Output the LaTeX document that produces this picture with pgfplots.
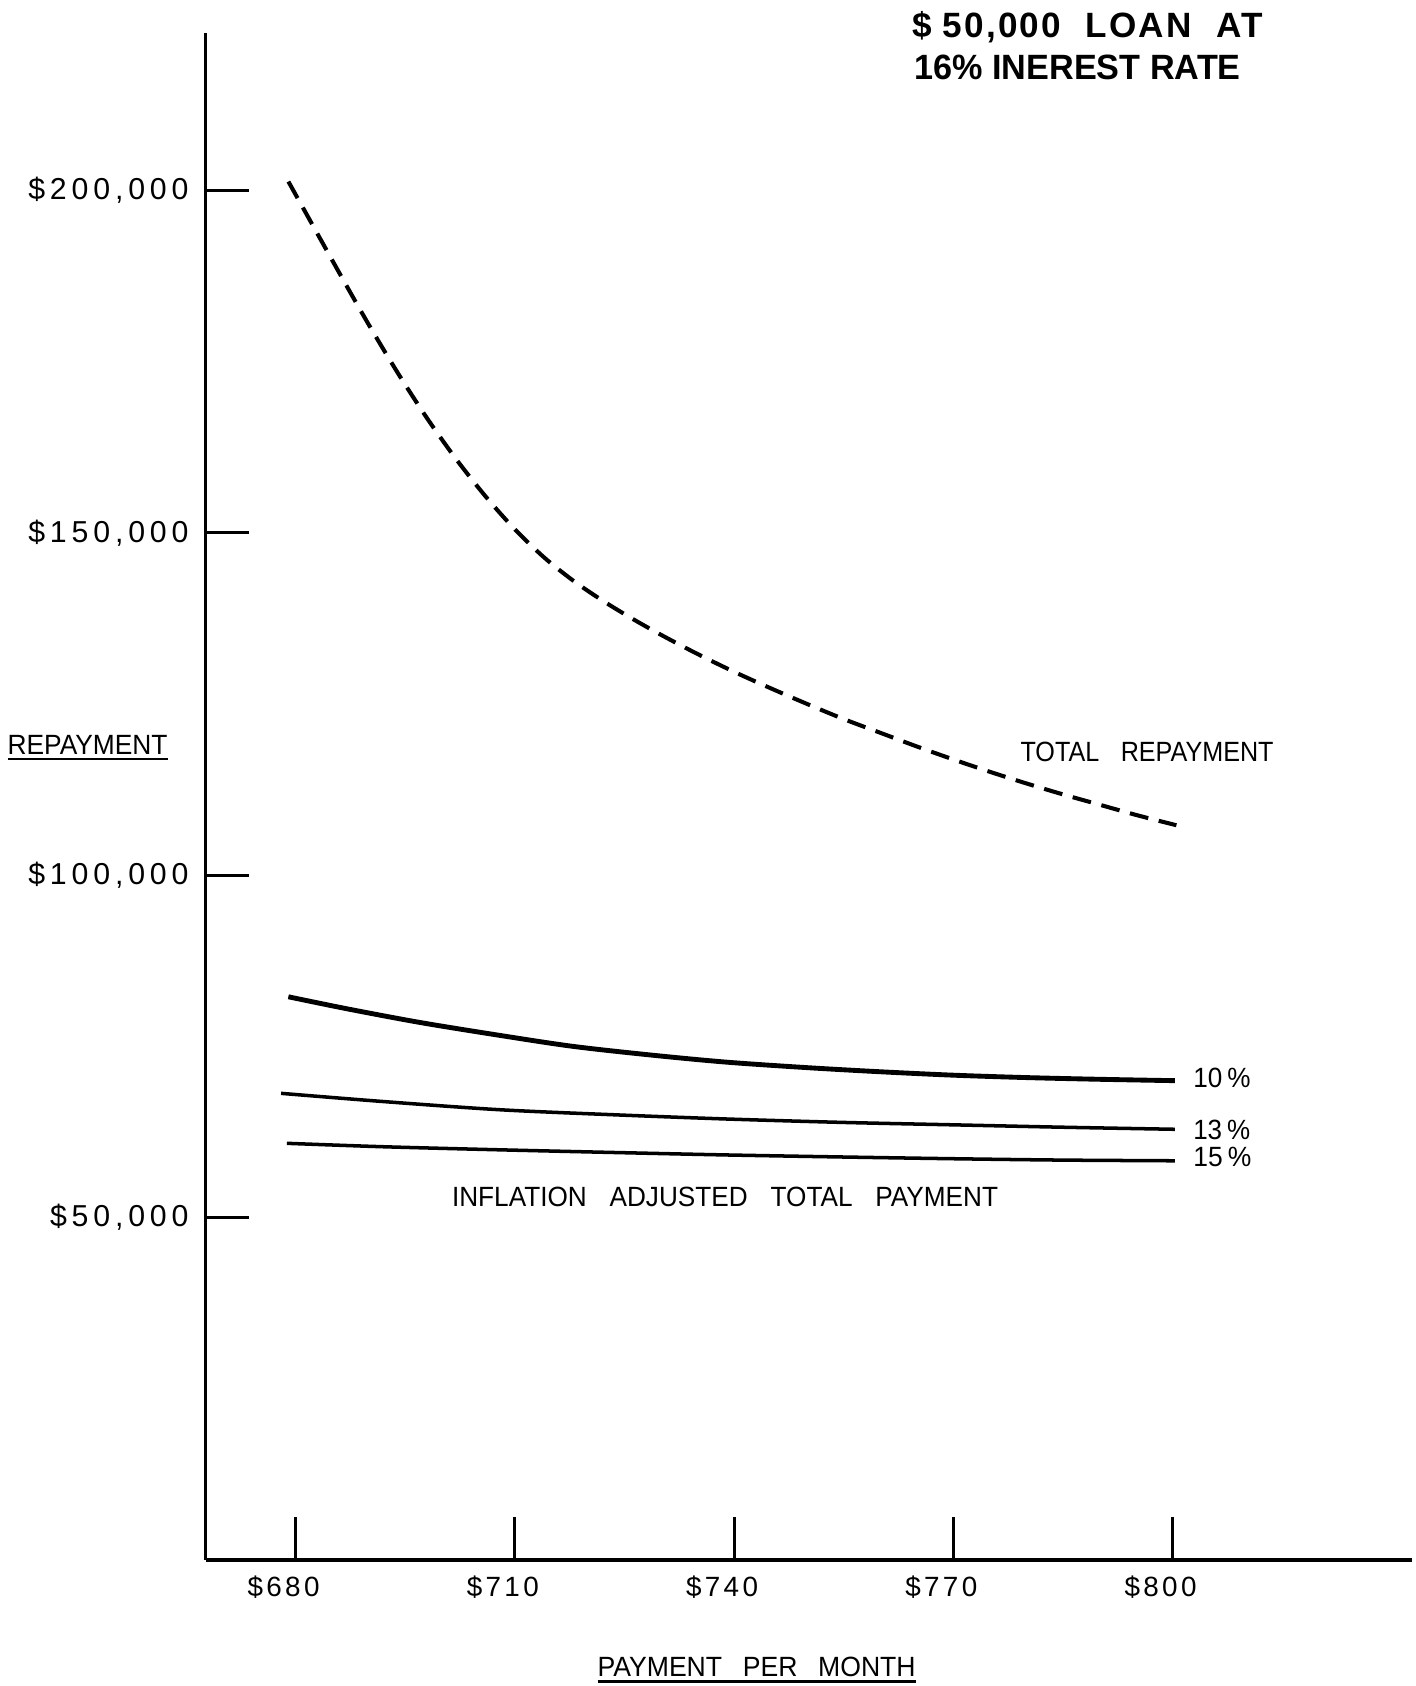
\documentclass[border=0pt]{standalone}
\usepackage{fontspec}
\setmainfont{Liberation Sans}
\newfontfamily\ytickfont{Liberation Sans}[LetterSpace=16]
\newfontfamily\xtickfont{Liberation Sans}[LetterSpace=12]
\newfontfamily\titlefont{Liberation Sans}[LetterSpace=6]
\usepackage{graphicx}
\usepackage{pgfplots}
\pgfplotsset{compat=1.18}
\newcommand\uln[1]{\setbox0=\hbox{#1}\leavevmode\rlap{\raisebox{-2.2bp}{\rule{\wd0}{0.9bp}}}\box0}
\newcommand\ytf{\ytickfont\fontsize{11.2bp}{13bp}\selectfont}
\newcommand\xtf{\xtickfont\fontsize{10.3bp}{12bp}\selectfont}
\newcommand\lbf{\fontsize{10.3bp}{12bp}\selectfont}
\begin{document}
\begin{tikzpicture}
\useasboundingbox (-76.04bp,-46.62bp) rectangle (447.52bp,577.21bp);
\begin{axis}[
  at={(0,0)}, anchor=south west,
  scale only axis, width=446.3bp, height=565bp,
  xmin=667.66, xmax=832.7, ymin=0, ymax=223000,
  axis lines=left,
  axis line style={-, line width=1.3bp, black},
  xtick={680,710,740,770,800},
  xticklabels={{\$680},{\$710},{\$740},{\$770},{\$800}},
  ytick={50000,100000,150000,200000},
  yticklabels={{\$50,000},{\$100,000},{\$150,000},{\$200,000}},
  scaled y ticks=false, scaled x ticks=false,
  tick align=inside, major tick length=16bp,
  tick style={line width=1.1bp, black},
  xticklabel style={anchor=north, inner sep=0pt, yshift=-5.5bp, xshift=-4.5bp, font=\xtf},
  yticklabel style={anchor=east, inner sep=0pt, xshift=-6.1bp, font=\ytf},
  clip=false,
]
\addplot[black, line width=1.5bp, dash pattern=on 7bp off 4bp, smooth, tension=0.5] coordinates {
(679,201300) (686,187900) (690,180400) (694,173300) (698,166700) (702,160700)
(706,155300) (710,150500) (714,146400) (718,143000) (722,140100) (726,137500)
(730,135100) (735,132300) (740,129700) (745,127300) (750,125000) (755,122800)
(760,120800) (765,118800) (770,116900) (775,115100) (780,113400) (785,111800)
(790,110300) (795,108800) (800.5,107300)};
\addplot[black, line width=1.8bp, smooth, tension=0.5] coordinates {
(679,82250) (687,80500) (697,78500) (708,76600) (718,75000) (729,73700)
(739,72700) (750,71900) (760,71300) (770,70800) (780,70450) (790,70200) (800.3,70000)};
\addplot[black, line width=1.3bp, smooth, tension=0.5] coordinates {
(678,68150) (692,66950) (708,65750) (724,65000) (739,64400) (755,63900)
(770,63550) (785,63200) (800.3,62900)};
\addplot[black, line width=1.3bp, smooth, tension=0.5] coordinates {
(678.8,60850) (692,60350) (708,59900) (724,59500) (739,59150) (755,58850)
(770,58600) (785,58400) (800.3,58300)};
% title
\node[anchor=base west, inner sep=0pt, font=\titlefont\bfseries\fontsize{13bp}{15bp}\selectfont] at (axis cs:764.33,222370)
  {\makebox[129.5bp][s]{\$\hspace{4bp}50,000 LOAN AT}};
\node[anchor=base west, inner sep=0pt, font=\bfseries\fontsize{13bp}{15bp}\selectfont] at (axis cs:764.6,216220)
  {\resizebox{120.7bp}{\height}{16\% INEREST RATE}};
% axis labels
\node[anchor=base west, inner sep=0pt, font=\lbf] at (axis cs:640.5,117700)
  {\resizebox{59.2bp}{\height}{\uln{REPAYMENT}}};
\node[anchor=base west, inner sep=0pt, font=\lbf] at (axis cs:721.23,-17042)
  {\resizebox{117.7bp}{\height}{\uln{PAYMENT\hspace{8bp}PER\hspace{8bp}MONTH}}};
% curve labels
\node[anchor=base west, inner sep=0pt, font=\lbf] at (axis cs:779.11,116575)
  {\resizebox{93.6bp}{\height}{TOTAL\hspace{8.8bp}REPAYMENT}};
\node[anchor=base west, inner sep=0pt, font=\lbf] at (axis cs:701.32,51593)
  {\resizebox{202bp}{\height}{INFLATION\hspace{9bp}ADJUSTED\hspace{9bp}TOTAL\hspace{9bp}PAYMENT}};
\node[anchor=base west, inner sep=0pt, font=\lbf] at (axis cs:802.74,68970)
  {\resizebox{21.2bp}{\height}{10\hspace{2bp}\%}};
\node[anchor=base west, inner sep=0pt, font=\lbf] at (axis cs:802.74,61479)
  {\resizebox{21.1bp}{\height}{13\hspace{2bp}\%}};
\node[anchor=base west, inner sep=0pt, font=\lbf] at (axis cs:802.74,57434)
  {\resizebox{21.5bp}{\height}{15\hspace{2bp}\%}};
\end{axis}
\end{tikzpicture}
\end{document}
